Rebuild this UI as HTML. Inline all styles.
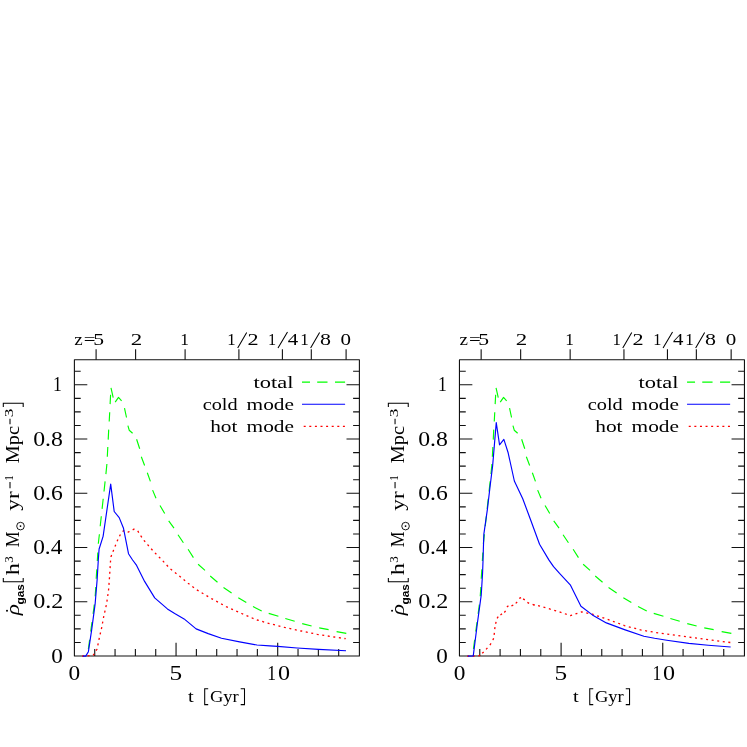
<!DOCTYPE html>
<html><head><meta charset="utf-8"><title>Gas accretion rate density</title>
<style>
html,body{margin:0;padding:0;background:#fff;}
body{width:747px;height:747px;overflow:hidden;font-family:"Liberation Serif",serif;}
svg{display:block;will-change:transform;opacity:0.999;}
text{font-family:"Liberation Serif",serif;fill:#000;}
.ax{fill:none;stroke:#111;stroke-width:1.1;stroke-linecap:butt;stroke-linejoin:round;}
.sl{fill:none;stroke:#000;stroke-width:1.05;stroke-linecap:butt;}
.c{fill:none;stroke-width:1.15;stroke-linejoin:round;}
.g{stroke:#00ff00;stroke-dasharray:9.8 7.9;stroke-dashoffset:0;}
.b{stroke:#0000ff;}
.gs{stroke:#00ff00;}
.rs{stroke:#ff0000;stroke-width:1.3;}
.r{stroke:#ff0000;stroke-dasharray:2 3.6;stroke-width:1.3;}
</style></head>
<body>
<svg width="747" height="747" viewBox="0 0 747 747">
<rect width="747" height="747" fill="#fff"/>
<g transform="translate(0,0)">
<rect x="74.4" y="359.8" width="285.0" height="296.2" class="ax"/>
<path d="M74.40 642.44h6.3M359.40 642.44h-6.3M74.40 628.88h6.3M359.40 628.88h-6.3M74.40 615.32h6.3M359.40 615.32h-6.3M74.40 601.76h12.9M359.40 601.76h-12.9M74.40 588.20h6.3M359.40 588.20h-6.3M74.40 574.64h6.3M359.40 574.64h-6.3M74.40 561.08h6.3M359.40 561.08h-6.3M74.40 547.52h12.9M359.40 547.52h-12.9M74.40 533.96h6.3M359.40 533.96h-6.3M74.40 520.40h6.3M359.40 520.40h-6.3M74.40 506.84h6.3M359.40 506.84h-6.3M74.40 493.28h12.9M359.40 493.28h-12.9M74.40 479.72h6.3M359.40 479.72h-6.3M74.40 466.16h6.3M359.40 466.16h-6.3M74.40 452.60h6.3M359.40 452.60h-6.3M74.40 439.04h12.9M359.40 439.04h-12.9M74.40 425.48h6.3M359.40 425.48h-6.3M74.40 411.92h6.3M359.40 411.92h-6.3M74.40 398.36h6.3M359.40 398.36h-6.3M74.40 384.80h12.9M359.40 384.80h-12.9M74.40 371.24h6.3M359.40 371.24h-6.3M94.73 656.00v-6.9M115.06 656.00v-6.9M135.39 656.00v-6.9M155.72 656.00v-6.9M176.05 656.00v-13.3M196.38 656.00v-6.9M216.71 656.00v-6.9M237.04 656.00v-6.9M257.37 656.00v-6.9M277.70 656.00v-13.3M298.03 656.00v-6.9M318.36 656.00v-6.9M338.69 656.00v-6.9M96.10 359.80v-10.5M135.60 359.80v-10.5M185.10 359.80v-10.5M238.90 359.80v-10.5M282.40 359.80v-10.5M311.30 359.80v-10.5M346.10 359.80v-10.5" class="ax"/>
<path d="M88.4 649.0L89.6 639.8M90.7 631.5L92.0 622.2M93.1 613.9L94.3 604.6M95.2 596.3L95.8 587.0M96.2 578.7L96.8 569.4M97.3 561.0L97.8 552.5M98.3 543.7L99.4 534.3M100.2 526.3L101.3 516.2M102.1 508.9L103.2 498.8M104.0 491.5L105.1 481.4M105.9 474.1L106.9 464.0M107.3 456.7L107.8 447.0M108.2 439.6L108.7 429.6M109.2 421.5L109.7 412.2M110.1 404.1L110.6 394.8M111.0 387.8L113.2 397.7M115.2 402.1L118.5 397.4L121.6 400.8M124.5 408.2L126.5 417.5M127.9 425.6L129.2 430.2L132.6 433.2M136.6 439.3L139.7 448.7M141.3 456.7L144.6 465.5M147.3 472.7L150.4 481.4M152.6 490.1L156.0 498.2M160.0 505.5L164.7 513.5M168.7 520.9L174.0 528.1M178.0 534.8L183.4 542.8M188.1 549.3L193.4 557.6M198.1 564.2L205.0 570.4M210.2 576.0L217.5 582.2M223.5 587.5L231.6 592.9M238.3 597.7L246.3 602.6M253.0 606.6L261.7 611.1M268.7 613.4L278.4 616.2M285.3 618.5L294.7 621.3M302.2 623.6L311.6 626.0M319.2 627.9L328.6 629.6M336.6 631.6L346.3 633.4" class="c gs"/>
<polyline points="82.0,656.1 93.1,655.5 97.1,649.0 99.1,639.0 101.8,627.0 103.8,616.2 106.5,604.2 108.5,590.8 109.5,577.4 110.5,561.3 111.1,556.4 114.5,547.7 117.8,539.7 120.5,534.3 123.5,530.7 128.5,532.0 133.9,529.2 137.6,530.7 140.6,535.6 143.9,540.3 147.6,544.6 151.0,548.6 154.7,552.6 158.7,556.7 162.7,560.7 170.0,568.6 179.4,576.0 188.1,583.3 196.8,589.8 211.5,598.6 226.2,606.6 241.6,613.5 257.0,620.0 269.7,623.6 284.4,627.3 301.1,631.0 317.2,634.3 333.9,637.0 345.7,638.7" class="c r"/>
<polyline points="82.8,656.1 85.7,656.1 88.4,651.7 91.7,629.6 95.1,604.2 97.1,580.1 98.3,560.0 99.1,549.0 103.1,536.3 110.7,484.1 114.2,511.5 119.2,517.6 123.5,528.3 128.5,553.7 132.6,560.0 136.6,565.4 144.6,581.4 154.7,597.9 167.4,608.9 174.7,613.5 184.1,618.9 196.1,628.9 208.2,633.6 221.5,638.3 239.6,641.9 257.0,645.0 269.7,645.9 277.7,646.4 297.1,648.0 318.5,649.4 346.0,650.8" class="c b"/>
<path d="M302 382.1H310M317.2 382.1H327.5M335 382.1H345.1" class="c gs"/>
<path d="M302 404.2H345.1" class="c b"/>
<path d="M302 426.4H345.1" class="c r" style="stroke-dashoffset:3.9"/>
<text x="253.48" y="387.7" font-size="16.6" textLength="39.97" lengthAdjust="spacingAndGlyphs">total</text>
<text x="202.73" y="409.8" font-size="16.6" textLength="34.92" lengthAdjust="spacingAndGlyphs">cold</text>
<text x="246.55" y="409.8" font-size="16.6" textLength="47.39" lengthAdjust="spacingAndGlyphs">mode</text>
<text x="210.19" y="432.2" font-size="16.6" textLength="27.33" lengthAdjust="spacingAndGlyphs">hot</text>
<text x="246.55" y="432.2" font-size="16.6" textLength="47.39" lengthAdjust="spacingAndGlyphs">mode</text>
<text x="74.39" y="345.2" font-size="17" textLength="8.44" lengthAdjust="spacingAndGlyphs">z</text>
<text x="83.86" y="345.2" font-size="17" textLength="11.76" lengthAdjust="spacingAndGlyphs">=</text>
<text x="93.25" y="345.2" font-size="17" textLength="10.80" lengthAdjust="spacingAndGlyphs">5</text>
<text x="130.79" y="345.2" font-size="17" textLength="11.47" lengthAdjust="spacingAndGlyphs">2</text>
<text x="180.18" y="345.2" font-size="17" textLength="8.66" lengthAdjust="spacingAndGlyphs">1</text>
<text x="227.33" y="345.2" font-size="17" textLength="8.38" lengthAdjust="spacingAndGlyphs">1</text>
<text x="247.42" y="345.2" font-size="17" textLength="11.10" lengthAdjust="spacingAndGlyphs">2</text>
<text x="268.08" y="345.2" font-size="17" textLength="8.10" lengthAdjust="spacingAndGlyphs">1</text>
<text x="287.89" y="345.2" font-size="17" textLength="10.43" lengthAdjust="spacingAndGlyphs">4</text>
<text x="300.30" y="345.2" font-size="17" textLength="8.52" lengthAdjust="spacingAndGlyphs">1</text>
<text x="320.06" y="345.2" font-size="17" textLength="10.97" lengthAdjust="spacingAndGlyphs">8</text>
<text x="340.60" y="345.2" font-size="17" textLength="10.50" lengthAdjust="spacingAndGlyphs">0</text>
<path d="M237.7 347.9L246.7 332.4M278 348.1L287.5 332.1M310.6 348L319.6 332.4" class="sl"/>
<text x="68.61" y="679.8" font-size="20.5" textLength="11.68" lengthAdjust="spacingAndGlyphs">0</text>
<text x="169.53" y="679.8" font-size="20.5" textLength="12.66" lengthAdjust="spacingAndGlyphs">5</text>
<text x="267.35" y="679.8" font-size="20.5" textLength="8.81" lengthAdjust="spacingAndGlyphs">1</text>
<text x="277.98" y="679.8" font-size="20.5" textLength="12.03" lengthAdjust="spacingAndGlyphs">0</text>
<text x="187.90" y="701.7" font-size="17" textLength="5.72" lengthAdjust="spacingAndGlyphs">t</text>
<text x="209.94" y="701.7" font-size="17" textLength="28.82" lengthAdjust="spacingAndGlyphs">Gyr</text>
<path d="M208.2 688.8H204.7V704.6H208.2M240.7 688.8H244.5V704.6H240.7" class="sl"/>
<text x="51.32" y="662.6" font-size="20.5" textLength="11.56" lengthAdjust="spacingAndGlyphs">0</text>
<text x="33.18" y="608.4" font-size="20.5" textLength="30.15" lengthAdjust="spacingAndGlyphs">0.2</text>
<text x="33.21" y="554.1" font-size="20.5" textLength="29.15" lengthAdjust="spacingAndGlyphs">0.4</text>
<text x="33.20" y="499.9" font-size="20.5" textLength="29.50" lengthAdjust="spacingAndGlyphs">0.6</text>
<text x="33.19" y="445.6" font-size="20.5" textLength="29.71" lengthAdjust="spacingAndGlyphs">0.8</text>
<text x="52.95" y="391.4" font-size="20.5" textLength="8.81" lengthAdjust="spacingAndGlyphs">1</text>
<g transform="translate(19.3,616.8) rotate(-90)">
<text x="1.49" y="0" font-size="19.5" textLength="11.21" lengthAdjust="spacingAndGlyphs" font-style="italic">ρ</text>
<circle cx="6.1" cy="-12.3" r="1.0" fill="#000"/>
<text x="12.21" y="5.0" font-size="10.6" textLength="20.47" lengthAdjust="spacingAndGlyphs" font-weight="bold" style="font-family:'Liberation Sans',sans-serif">gas</text>
<path d="M38.7 -16H35.1V3.9H38.7" class="sl"/>
<text x="41.46" y="0" font-size="19.5" textLength="12.26" lengthAdjust="spacingAndGlyphs">h</text>
<text x="54.17" y="-6.3" font-size="11.8" textLength="6.54" lengthAdjust="spacingAndGlyphs">3</text>
<text x="69.59" y="0" font-size="19.5" textLength="15.83" lengthAdjust="spacingAndGlyphs">M</text>
<circle cx="90.7" cy="1.2" r="3.8" fill="none" stroke="#000" stroke-width="0.9"/><circle cx="90.7" cy="1.2" r="0.9" fill="#000"/>
<text x="106.12" y="0" font-size="19.5" textLength="19.39" lengthAdjust="spacingAndGlyphs">yr</text>
<path d="M128.6 -9.3H134.7M192.6 -9.3H198" class="sl"/>
<text x="136.13" y="-5.9" font-size="11.8" textLength="5.54" lengthAdjust="spacingAndGlyphs">1</text>
<text x="153.52" y="0" font-size="19.5" textLength="37.21" lengthAdjust="spacingAndGlyphs">Mpc</text>
<text x="199.48" y="-6.3" font-size="11.8" textLength="8.59" lengthAdjust="spacingAndGlyphs">3</text>
<path d="M209.9 -16H213.5V3.9H209.9" class="sl"/>
</g>
</g>
<g transform="translate(385.05,0)">
<rect x="74.4" y="359.8" width="285.0" height="296.2" class="ax"/>
<path d="M74.40 642.44h6.3M359.40 642.44h-6.3M74.40 628.88h6.3M359.40 628.88h-6.3M74.40 615.32h6.3M359.40 615.32h-6.3M74.40 601.76h12.9M359.40 601.76h-12.9M74.40 588.20h6.3M359.40 588.20h-6.3M74.40 574.64h6.3M359.40 574.64h-6.3M74.40 561.08h6.3M359.40 561.08h-6.3M74.40 547.52h12.9M359.40 547.52h-12.9M74.40 533.96h6.3M359.40 533.96h-6.3M74.40 520.40h6.3M359.40 520.40h-6.3M74.40 506.84h6.3M359.40 506.84h-6.3M74.40 493.28h12.9M359.40 493.28h-12.9M74.40 479.72h6.3M359.40 479.72h-6.3M74.40 466.16h6.3M359.40 466.16h-6.3M74.40 452.60h6.3M359.40 452.60h-6.3M74.40 439.04h12.9M359.40 439.04h-12.9M74.40 425.48h6.3M359.40 425.48h-6.3M74.40 411.92h6.3M359.40 411.92h-6.3M74.40 398.36h6.3M359.40 398.36h-6.3M74.40 384.80h12.9M359.40 384.80h-12.9M74.40 371.24h6.3M359.40 371.24h-6.3M94.73 656.00v-6.9M115.06 656.00v-6.9M135.39 656.00v-6.9M155.72 656.00v-6.9M176.05 656.00v-13.3M196.38 656.00v-6.9M216.71 656.00v-6.9M237.04 656.00v-6.9M257.37 656.00v-6.9M277.70 656.00v-13.3M298.03 656.00v-6.9M318.36 656.00v-6.9M338.69 656.00v-6.9M96.10 359.80v-10.5M135.60 359.80v-10.5M185.10 359.80v-10.5M238.90 359.80v-10.5M282.40 359.80v-10.5M311.30 359.80v-10.5M346.10 359.80v-10.5" class="ax"/>
<path d="M88.4 649.0L89.6 639.8M90.7 631.5L92.0 622.2M93.1 613.9L94.3 604.6M95.2 596.3L95.8 587.0M96.2 578.7L96.8 569.4M97.3 561.0L97.8 552.5M98.3 543.7L99.4 534.3M100.2 526.3L101.3 516.2M102.1 508.9L103.2 498.8M104.0 491.5L105.1 481.4M105.9 474.1L106.9 464.0M107.3 456.7L107.8 447.0M108.2 439.6L108.7 429.6M109.2 421.5L109.7 412.2M110.1 404.1L110.6 394.8M111.0 387.8L113.2 397.7M115.2 402.1L118.5 397.4L121.6 400.8M124.5 408.2L126.5 417.5M127.9 425.6L129.2 430.2L132.6 433.2M136.6 439.3L139.7 448.7M141.3 456.7L144.6 465.5M147.3 472.7L150.4 481.4M152.6 490.1L156.0 498.2M160.0 505.5L164.7 513.5M168.7 520.9L174.0 528.1M178.0 534.8L183.4 542.8M188.1 549.3L193.4 557.6M198.1 564.2L205.0 570.4M210.2 576.0L217.5 582.2M223.5 587.5L231.6 592.9M238.3 597.7L246.3 602.6M253.0 606.6L261.7 611.1M268.7 613.4L278.4 616.2M285.3 618.5L294.7 621.3M302.2 623.6L311.6 626.0M319.2 627.9L328.6 629.6M336.6 631.6L346.3 633.4" class="c gs"/>
<polyline points="148.5,604.8 153.8,605.9 164.5,608.9 174.5,611.9 176.5,612.6 185.2,615.6 196.6,611.9 207.3,614.2 223.3,619.6 239.4,625.6 255.5,629.9 269.5,632.3 284.3,634.3 306.4,637.5 327.1,640.2 345.3,642.5" class="c r" style="stroke-dashoffset:1"/>
<polyline points="82.0,656.1 91.2,656.0" class="c r"/><path d="M93.42 656.23L94.98 654.97M97.17 653.28L98.63 651.92M101.03 649.35L102.37 647.85M104.83 645.02L105.97 643.38M107.85 640.14L108.55 638.26M109.06 634.89L109.34 632.91M109.66 629.19L109.94 627.21M110.55 623.77L111.05 621.83M112.06 618.34L113.14 616.66M115.42 615.02L116.98 613.78M119.28 612.48L120.52 610.92M121.83 607.04L123.37 605.76M126.38 605.89L128.22 605.11M130.68 603.39L132.12 602.01M134.18 598.40L136.02 597.60M138.04 598.88L139.76 599.92M142.33 602.41L144.07 603.39M147.56 604.46L149.44 605.14" class="c rs"/>
<polyline points="82.8,656.1 88.2,655.9 92.2,624.3 96.2,594.8 97.5,573.4 98.0,560.0 98.3,549.2 98.8,534.2 102.3,509.6 105.2,485.0 107.6,465.6 111.2,422.6 114.5,444.8 118.8,439.4 123.1,452.8 129.3,481.0 137.7,498.8 145.7,520.2 154.5,544.3 163.8,559.9 168.5,566.7 174.5,573.4 185.2,584.8 195.9,606.2 207.3,614.9 221.3,622.9 239.4,629.6 258.8,636.3 269.5,638.3 281.7,640.2 303.8,643.4 323.2,645.2 345.6,647.0" class="c b"/>
<path d="M302 382.1H310M317.2 382.1H327.5M335 382.1H345.1" class="c gs"/>
<path d="M302 404.2H345.1" class="c b"/>
<path d="M302 426.4H345.1" class="c r" style="stroke-dashoffset:3.9"/>
<text x="253.48" y="387.7" font-size="16.6" textLength="39.97" lengthAdjust="spacingAndGlyphs">total</text>
<text x="202.73" y="409.8" font-size="16.6" textLength="34.92" lengthAdjust="spacingAndGlyphs">cold</text>
<text x="246.55" y="409.8" font-size="16.6" textLength="47.39" lengthAdjust="spacingAndGlyphs">mode</text>
<text x="210.19" y="432.2" font-size="16.6" textLength="27.33" lengthAdjust="spacingAndGlyphs">hot</text>
<text x="246.55" y="432.2" font-size="16.6" textLength="47.39" lengthAdjust="spacingAndGlyphs">mode</text>
<text x="74.39" y="345.2" font-size="17" textLength="8.44" lengthAdjust="spacingAndGlyphs">z</text>
<text x="83.86" y="345.2" font-size="17" textLength="11.76" lengthAdjust="spacingAndGlyphs">=</text>
<text x="93.25" y="345.2" font-size="17" textLength="10.80" lengthAdjust="spacingAndGlyphs">5</text>
<text x="130.79" y="345.2" font-size="17" textLength="11.47" lengthAdjust="spacingAndGlyphs">2</text>
<text x="180.18" y="345.2" font-size="17" textLength="8.66" lengthAdjust="spacingAndGlyphs">1</text>
<text x="227.33" y="345.2" font-size="17" textLength="8.38" lengthAdjust="spacingAndGlyphs">1</text>
<text x="247.42" y="345.2" font-size="17" textLength="11.10" lengthAdjust="spacingAndGlyphs">2</text>
<text x="268.08" y="345.2" font-size="17" textLength="8.10" lengthAdjust="spacingAndGlyphs">1</text>
<text x="287.89" y="345.2" font-size="17" textLength="10.43" lengthAdjust="spacingAndGlyphs">4</text>
<text x="300.30" y="345.2" font-size="17" textLength="8.52" lengthAdjust="spacingAndGlyphs">1</text>
<text x="320.06" y="345.2" font-size="17" textLength="10.97" lengthAdjust="spacingAndGlyphs">8</text>
<text x="340.60" y="345.2" font-size="17" textLength="10.50" lengthAdjust="spacingAndGlyphs">0</text>
<path d="M237.7 347.9L246.7 332.4M278 348.1L287.5 332.1M310.6 348L319.6 332.4" class="sl"/>
<text x="68.61" y="679.8" font-size="20.5" textLength="11.68" lengthAdjust="spacingAndGlyphs">0</text>
<text x="169.53" y="679.8" font-size="20.5" textLength="12.66" lengthAdjust="spacingAndGlyphs">5</text>
<text x="267.35" y="679.8" font-size="20.5" textLength="8.81" lengthAdjust="spacingAndGlyphs">1</text>
<text x="277.98" y="679.8" font-size="20.5" textLength="12.03" lengthAdjust="spacingAndGlyphs">0</text>
<text x="187.90" y="701.7" font-size="17" textLength="5.72" lengthAdjust="spacingAndGlyphs">t</text>
<text x="209.94" y="701.7" font-size="17" textLength="28.82" lengthAdjust="spacingAndGlyphs">Gyr</text>
<path d="M208.2 688.8H204.7V704.6H208.2M240.7 688.8H244.5V704.6H240.7" class="sl"/>
<text x="51.32" y="662.6" font-size="20.5" textLength="11.56" lengthAdjust="spacingAndGlyphs">0</text>
<text x="33.18" y="608.4" font-size="20.5" textLength="30.15" lengthAdjust="spacingAndGlyphs">0.2</text>
<text x="33.21" y="554.1" font-size="20.5" textLength="29.15" lengthAdjust="spacingAndGlyphs">0.4</text>
<text x="33.20" y="499.9" font-size="20.5" textLength="29.50" lengthAdjust="spacingAndGlyphs">0.6</text>
<text x="33.19" y="445.6" font-size="20.5" textLength="29.71" lengthAdjust="spacingAndGlyphs">0.8</text>
<text x="52.95" y="391.4" font-size="20.5" textLength="8.81" lengthAdjust="spacingAndGlyphs">1</text>
<g transform="translate(19.3,616.8) rotate(-90)">
<text x="1.49" y="0" font-size="19.5" textLength="11.21" lengthAdjust="spacingAndGlyphs" font-style="italic">ρ</text>
<circle cx="6.1" cy="-12.3" r="1.0" fill="#000"/>
<text x="12.21" y="5.0" font-size="10.6" textLength="20.47" lengthAdjust="spacingAndGlyphs" font-weight="bold" style="font-family:'Liberation Sans',sans-serif">gas</text>
<path d="M38.7 -16H35.1V3.9H38.7" class="sl"/>
<text x="41.46" y="0" font-size="19.5" textLength="12.26" lengthAdjust="spacingAndGlyphs">h</text>
<text x="54.17" y="-6.3" font-size="11.8" textLength="6.54" lengthAdjust="spacingAndGlyphs">3</text>
<text x="69.59" y="0" font-size="19.5" textLength="15.83" lengthAdjust="spacingAndGlyphs">M</text>
<circle cx="90.7" cy="1.2" r="3.8" fill="none" stroke="#000" stroke-width="0.9"/><circle cx="90.7" cy="1.2" r="0.9" fill="#000"/>
<text x="106.12" y="0" font-size="19.5" textLength="19.39" lengthAdjust="spacingAndGlyphs">yr</text>
<path d="M128.6 -9.3H134.7M192.6 -9.3H198" class="sl"/>
<text x="136.13" y="-5.9" font-size="11.8" textLength="5.54" lengthAdjust="spacingAndGlyphs">1</text>
<text x="153.52" y="0" font-size="19.5" textLength="37.21" lengthAdjust="spacingAndGlyphs">Mpc</text>
<text x="199.48" y="-6.3" font-size="11.8" textLength="8.59" lengthAdjust="spacingAndGlyphs">3</text>
<path d="M209.9 -16H213.5V3.9H209.9" class="sl"/>
</g>
</g>
</svg>
</body></html>
